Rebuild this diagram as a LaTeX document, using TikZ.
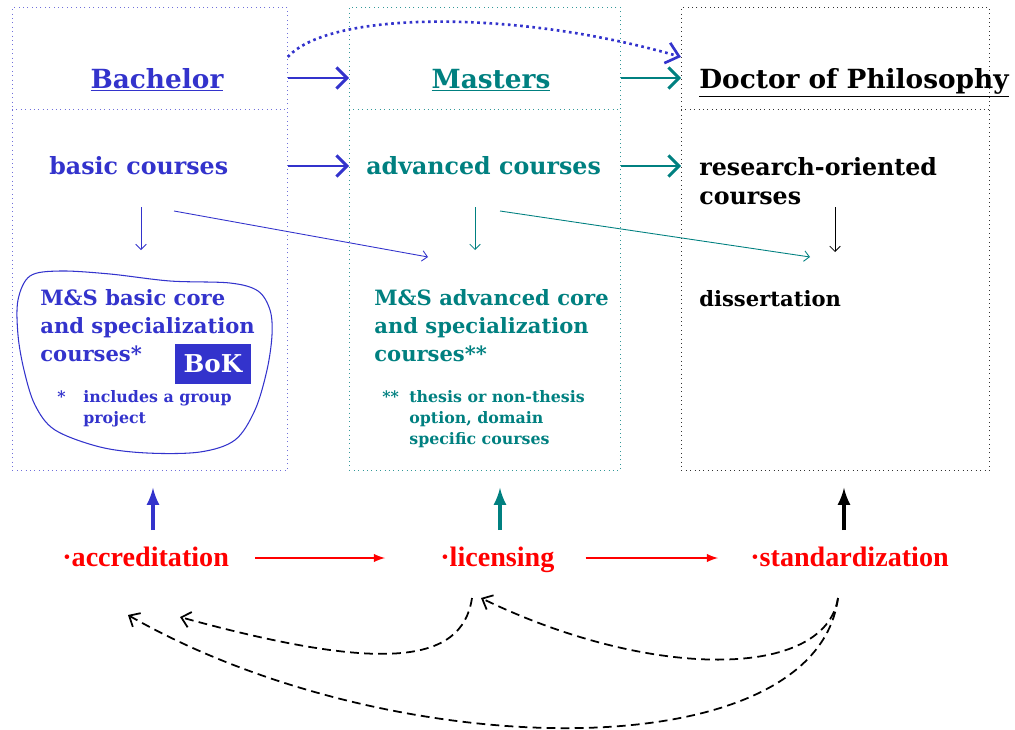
\documentclass[tikz,border=0pt]{standalone}
\usepackage{fontspec}
\setmainfont{DejaVu Serif}
\newfontfamily\redfont{Liberation Serif}
\usetikzlibrary{arrows.meta}
\definecolor{bblue}{HTML}{3333CC}
\definecolor{mteal}{HTML}{008080}

\tikzset{
	levelbox/.style={draw,dotted,line width=0.5pt,anchor=north west,inner sep=0pt,minimum height=9.26cm},
	titletext/.style={font=\fontsize{15}{18}\selectfont\bfseries,inner sep=0pt},
	coursetext/.style={font=\fontsize{13.5}{16.5}\selectfont\bfseries,inner sep=0pt,align=left},
	bodytext/.style={font=\fontsize{12}{15.9}\selectfont\bfseries,inner sep=0pt,align=left},
	notetext/.style={font=\fontsize{9}{12}\selectfont\bfseries,inner sep=0pt,align=left},
	redtext/.style={font=\redfont\fontsize{16}{20}\selectfont\bfseries,text=red,inner sep=0pt},
	bigarrow/.style={-{Straight Barb[length=6pt,width=12pt]},line width=1.7pt},
	thinarrow/.style={-{Straight Barb[length=3pt,width=6pt]},line width=0.5pt},
	uparrow/.style={-latex,line width=2.3pt},
	redarrow/.style={-latex,line width=1.2pt,red},
	backarrow/.style={-{Straight Barb[length=5pt,width=9pt]},line width=1pt,dash pattern=on 5pt off 3pt},
}

\begin{document}
\begin{tikzpicture}[x=0.02cm,y=-0.02cm]
	\useasboundingbox (0,0) rectangle (1015,730);

	% the three levels
	\node[levelbox,draw=bblue!70,minimum width=5.5cm] (bach) at (12,7) {};
	\node[levelbox,draw=mteal!80,minimum width=5.42cm] (mast) at (349,7) {};
	\node[levelbox,draw=black!80,minimum width=6.16cm] (phd) at (681,7) {};
	\draw[dotted,bblue!70,line width=0.5pt] (bach.west |- 0,109) -- (bach.east |- 0,109);
	\draw[dotted,mteal!80,line width=0.5pt] (mast.west |- 0,109) -- (mast.east |- 0,109);
	\draw[dotted,black!80,line width=0.5pt] (phd.west |- 0,109) -- (phd.east |- 0,109);

	\node[titletext,text=bblue,anchor=base] (btitle) at (157,88) {\underline{Bachelor}};
	\node[titletext,text=mteal,anchor=base] (mtitle) at (491,88) {\underline{Masters}};
	\node[titletext,anchor=base west] (dtitle) at (699,88) {\underline{Doctor of Philosophy}};

	\node[coursetext,text=bblue,anchor=base west] (bcourses) at (49,174) {basic courses};
	\node[coursetext,text=mteal,anchor=base west] (mcourses) at (366,174) {advanced courses};
	\node[coursetext,anchor=north west] (dcourses) at (699,157) {research-oriented\\courses};

	% bachelor blob
	\draw[bblue,line width=0.6pt] plot[smooth cycle,tension=0.55] coordinates {(18,300) (30,276) (60,271) (110,274) (170,281) (230,283) (258,291) (270,310) (272,335) (267,370) (255,410) (235,440) (200,452) (147,453) (100,447) (55,430) (35,405) (24,370) (18,335)};
	\node[bodytext,text=bblue,anchor=north west] (bcore) at (40,289) {M\&S basic core\\and specialization\\courses*};
	\node[fill=bblue,text=white,minimum width=1.52cm,minimum height=0.8cm,inner sep=0pt,font=\fontsize{14}{16}\selectfont\bfseries] (bok) at (213,364) {BoK};
	\node[notetext,text=bblue,anchor=north west] (bstar) at (57,390) {*};
	\node[notetext,text=bblue,anchor=north west] (bnote) at (83,390) {includes a group\\project};

	\node[bodytext,text=mteal,anchor=north west] (mcore) at (374,289) {M\&S advanced core\\and specialization\\courses**};
	\node[notetext,text=mteal,anchor=north west] (mstar) at (382,390) {**};
	\node[notetext,text=mteal,anchor=north west] (mnote) at (409,390) {thesis or non-thesis\\option, domain\\specific courses};

	\node[bodytext,anchor=base west] (diss) at (699,306) {dissertation};

	% progression between levels
	\draw[bigarrow,bblue] (bach.east |- 0,78) -- (mast.west |- 0,78);
	\draw[bigarrow,bblue] (bach.east |- 0,166) -- (mast.west |- 0,166);
	\draw[bigarrow,mteal] (mast.east |- 0,78) -- (phd.west |- 0,78);
	\draw[bigarrow,mteal] (mast.east |- 0,166) -- (phd.west |- 0,166);
	\draw[bblue,line width=1.5pt,dash pattern=on 1.5pt off 2pt,-{Straight Barb[length=7pt,width=12pt]}] (bach.east |- 0,57) .. controls (330,10) and (520,10) .. (phd.west |- 0,57);

	\coordinate (bdown) at (141,207);
	\coordinate (bside) at (174,211);
	\coordinate (mdown) at (475,207);
	\coordinate (mside) at (500,211);
	\coordinate (ddown) at (835,207);
	\draw[thinarrow,bblue] (bdown) -- (141,250);
	\draw[thinarrow,bblue] (bside) -- (428,257);
	\draw[thinarrow,mteal] (mdown) -- (475,250);
	\draw[thinarrow,mteal] (mside) -- (810,257);
	\draw[thinarrow] (ddown) -- (835,252);

	% quality assurance
	\node[redtext,anchor=base west] (acc) at (62,566) {·accreditation};
	\node[redtext,anchor=base west] (lic) at (440,566) {·licensing};
	\node[redtext,anchor=base west] (std) at (750,566) {·standardization};
	\coordinate (redrow) at (0,558);
	\draw[redarrow] (acc.east |- redrow) ++(26,0) -- ([xshift=-1.1cm]lic.west |- redrow);
	\draw[redarrow] (lic.east |- redrow) ++(31,0) -- ([xshift=-0.64cm]std.west |- redrow);

	\coordinate (accup) at (153,530);
	\coordinate (licup) at (500,530);
	\coordinate (stdup) at (844,530);
	\draw[uparrow,bblue,shorten >=0.34cm] (accup) -- (accup |- bach.south);
	\draw[uparrow,mteal,shorten >=0.34cm] (licup) -- (licup |- mast.south);
	\draw[uparrow,shorten >=0.34cm] (stdup) -- (stdup |- phd.south);

	\coordinate (licdn) at (472,598);
	\coordinate (stddn) at (838,598);
	\coordinate (accin) at (180,617);
	\coordinate (accfar) at (128,615);
	\coordinate (licin) at (481,598);
	\draw[backarrow] (licdn) .. controls (462,665) and (380,672) .. (accin);
	\draw[backarrow] (stddn) .. controls (825,680) and (650,680) .. (licin);
	\draw[backarrow] (stddn) .. controls (815,772) and (390,765) .. (accfar);
\end{tikzpicture}
\end{document}
